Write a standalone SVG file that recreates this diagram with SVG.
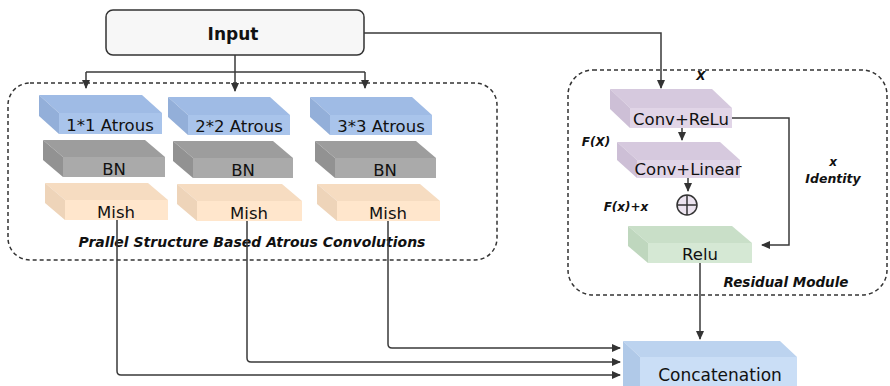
<svg xmlns="http://www.w3.org/2000/svg" width="890" height="386" viewBox="0 0 890 386">
<defs>
<marker id="ah" markerWidth="9" markerHeight="8" refX="8" refY="4" orient="auto" markerUnits="userSpaceOnUse">
<path d="M0,0 L9,4 L0,8 z" fill="#333"/>
</marker>
</defs>
<style>
.lbl{font-family:"DejaVu Sans",sans-serif;fill:#111;text-anchor:middle}
.blk{font-size:16.5px}
.it{font-style:italic;font-weight:bold;font-size:12px}
.dash{fill:none;stroke:#333;stroke-width:1.5;stroke-dasharray:4 3}
.con{fill:none;stroke:#3a3a3a;stroke-width:1.5}
.blue .f{fill:#a9c4eb}.blue .t{fill:#9fbbe5}.blue .s{fill:#93afd9}
.gray .f{fill:#aaaaaa}.gray .t{fill:#9d9d9d}.gray .s{fill:#929292}
.org .f{fill:#ffe6cc}.org .t{fill:#f6dcc1}.org .s{fill:#eed4b9}
.pur .f{fill:#e1d5e7}.pur .t{fill:#d6c9de}.pur .s{fill:#cdbfd6}
.grn .f{fill:#d5e8d4}.grn .t{fill:#c9dfc8}.grn .s{fill:#bfd7be}
.lb .f{fill:#cadef6}.lb .t{fill:#bcd3ef}.lb .s{fill:#b0c9e8}
</style>

<rect class="dash" x="8" y="83" width="489" height="177" rx="22"/>
<rect class="dash" x="568" y="70" width="319" height="225" rx="25"/>

<g id="input">
<rect x="106" y="10" width="258" height="45" rx="7" fill="#f7f7f7" stroke="#333" stroke-width="1.5"/>
<text class="lbl" x="233" y="40" style="font-size:17px;font-weight:bold">Input</text>
</g>

<g id="atrous1" class="blue">
<polygon class="t" points="39,95 142,95 162,113 59,113"/>
<polygon class="s" points="39,95 59,113 59,134 39,116"/>
<rect class="f" x="59" y="113" width="103" height="21"/>
<text class="lbl blk" x="110" y="131">1*1 Atrous</text>
</g>
<g id="atrous2" class="blue">
<polygon class="t" points="168,97 270,97 290,115 188,115"/>
<polygon class="s" points="168,97 188,115 188,135 168,117"/>
<rect class="f" x="188" y="115" width="102" height="20"/>
<text class="lbl blk" x="239" y="132">2*2 Atrous</text>
</g>
<g id="atrous3" class="blue">
<polygon class="t" points="310,97 412,97 432,115 330,115"/>
<polygon class="s" points="310,97 330,115 330,135 310,117"/>
<rect class="f" x="330" y="115" width="102" height="20"/>
<text class="lbl blk" x="381" y="132">3*3 Atrous</text>
</g>

<g id="bn1" class="gray">
<polygon class="t" points="43,140 145,140 165,157 63,157"/>
<polygon class="s" points="43,140 63,157 63,177 43,160"/>
<rect class="f" x="63" y="157" width="102" height="20"/>
<text class="lbl blk" x="114" y="175">BN</text>
</g>
<g id="bn2" class="gray">
<polygon class="t" points="173,141 273,141 293,158 193,158"/>
<polygon class="s" points="173,141 193,158 193,178 173,161"/>
<rect class="f" x="193" y="158" width="100" height="20"/>
<text class="lbl blk" x="243" y="176">BN</text>
</g>
<g id="bn3" class="gray">
<polygon class="t" points="315,141 416,141 436,158 335,158"/>
<polygon class="s" points="315,141 335,158 335,178 315,161"/>
<rect class="f" x="335" y="158" width="101" height="20"/>
<text class="lbl blk" x="385" y="176">BN</text>
</g>

<g id="mish1" class="org">
<polygon class="t" points="45,183 148,183 168,200 65,200"/>
<polygon class="s" points="45,183 65,200 65,220 45,203"/>
<rect class="f" x="65" y="200" width="103" height="20"/>
<text class="lbl blk" x="116" y="218">Mish</text>
</g>
<g id="mish2" class="org">
<polygon class="t" points="177,184 282,184 302,201 197,201"/>
<polygon class="s" points="177,184 197,201 197,221 177,204"/>
<rect class="f" x="197" y="201" width="105" height="20"/>
<text class="lbl blk" x="249" y="219">Mish</text>
</g>
<g id="mish3" class="org">
<polygon class="t" points="317,184 420,184 440,201 337,201"/>
<polygon class="s" points="317,184 337,201 337,221 317,204"/>
<rect class="f" x="337" y="201" width="103" height="20"/>
<text class="lbl blk" x="388" y="219">Mish</text>
</g>

<text class="lbl it" x="252" y="247" style="font-size:14px">Prallel Structure Based Atrous Convolutions</text>

<g id="convrelu" class="pur">
<polygon class="t" points="610,89 712,89 732,108 630,108"/>
<polygon class="s" points="610,89 630,108 630,128 610,109"/>
<rect class="f" x="630" y="108" width="102" height="20"/>
<text class="lbl blk" x="681" y="125">Conv+ReLu</text>
</g>
<g id="convlinear" class="pur">
<polygon class="t" points="617,142 720,142 740,160 637,160"/>
<polygon class="s" points="617,142 637,160 637,178 617,160"/>
<rect class="f" x="637" y="160" width="103" height="18"/>
<text class="lbl blk" x="688" y="175">Conv+Linear</text>
</g>
<g id="sum">
<circle cx="687" cy="205" r="10" fill="#ece4f0" stroke="#333" stroke-width="1.5"/>
<path d="M677,205 H697 M687,195 V215" stroke="#333" stroke-width="1.5"/>
</g>
<g id="relu" class="grn">
<polygon class="t" points="628,226 732,226 752,243 648,243"/>
<polygon class="s" points="628,226 648,243 648,263 628,246"/>
<rect class="f" x="648" y="243" width="104" height="20"/>
<text class="lbl blk" x="700" y="260">Relu</text>
</g>
<g id="concat" class="lb">
<polygon class="t" points="623,341 780,341 797,357 640,357"/>
<polygon class="s" points="623,341 640,357 640,386 623,386"/>
<rect class="f" x="640" y="357" width="157" height="29"/>
<text class="lbl" x="720" y="381" style="font-size:17px">Concatenation</text>
</g>

<text class="lbl it" x="701" y="80">X</text>
<text class="lbl it" x="596" y="146">F(X)</text>
<text class="lbl it" x="626" y="211">F(x)+x</text>
<text class="lbl it" x="833" y="166">x</text>
<text class="lbl it" x="833" y="183" style="font-size:12.5px">Identity</text>
<text class="lbl it" x="786" y="287" style="font-size:13.5px">Residual Module</text>

<g id="connectors">
<path class="con" d="M235,55 V91" marker-end="url(#ah)"/>
<path class="con" d="M86,72 H365"/>
<path class="con" d="M86,72 V88" marker-end="url(#ah)"/>
<path class="con" d="M365,72 V88" marker-end="url(#ah)"/>
<path class="con" d="M364,33 H661 V88" marker-end="url(#ah)"/>
<path class="con" d="M682,128 V140" marker-end="url(#ah)"/>
<path class="con" d="M688,178 V191" marker-end="url(#ah)"/>
<path class="con" d="M732,118 H789 V245 H762" marker-end="url(#ah)"/>
<path class="con" d="M700,263 V339" marker-end="url(#ah)"/>
<path class="con" d="M388,221 V344 Q388,348 392,348 H620" marker-end="url(#ah)"/>
<path class="con" d="M247,221 V358 Q247,362 251,362 H620" marker-end="url(#ah)"/>
<path class="con" d="M117,220 V371 Q117,375 121,375 H620" marker-end="url(#ah)"/>
</g>
</svg>
